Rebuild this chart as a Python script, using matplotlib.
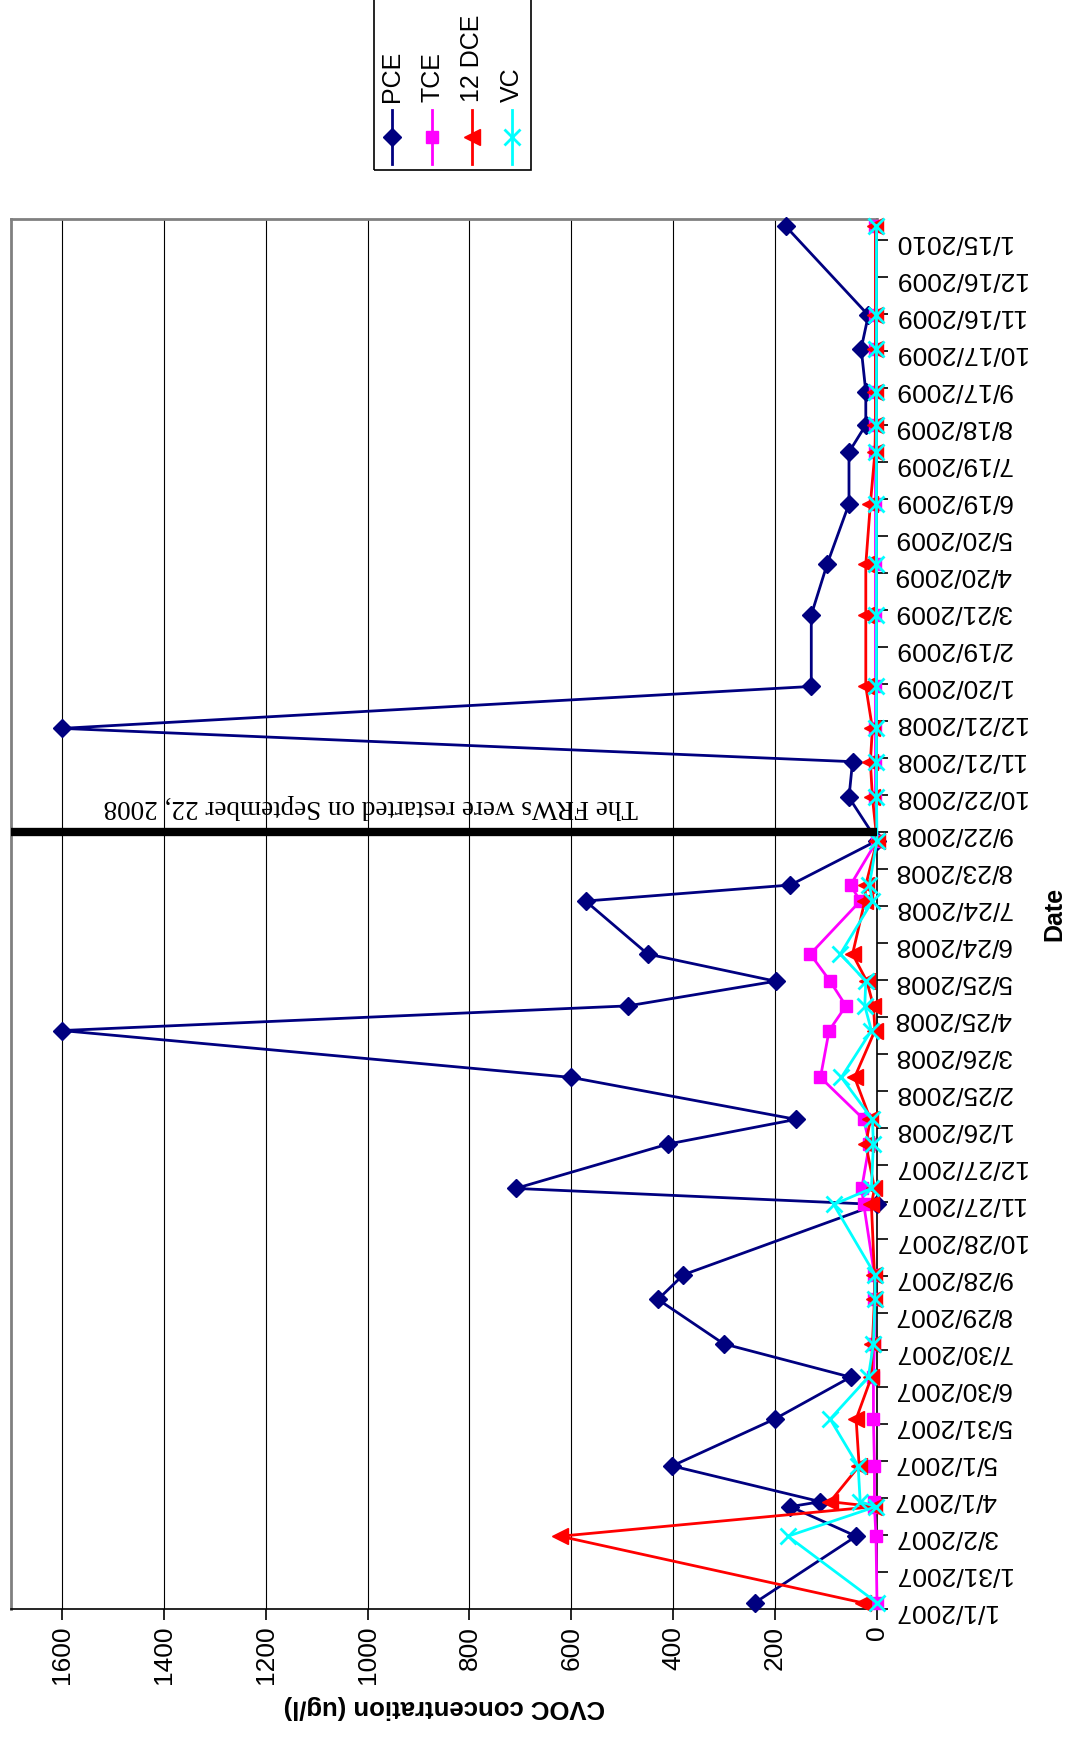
#!/usr/bin/env python3

import matplotlib
matplotlib.use("Agg")
import matplotlib.pyplot as plt
import matplotlib.dates as mdates
from matplotlib.lines import Line2D
from matplotlib.patches import Rectangle
import pandas as pd

# sample dates
sample_dates = [
    "2007-01-06", "2007-03-01", "2007-03-25", "2007-03-29", "2007-04-27",
    "2007-06-04", "2007-07-08", "2007-08-04", "2007-09-09", "2007-09-29",
    "2007-11-25", "2007-12-08", "2008-01-13", "2008-02-02", "2008-03-07",
    "2008-04-14", "2008-05-04", "2008-05-24", "2008-06-15", "2008-07-28",
    "2008-08-10", "2008-09-15", "2008-10-20", "2008-11-18", "2008-12-15",
    "2009-01-18", "2009-03-17", "2009-04-27", "2009-06-15", "2009-07-27",
    "2009-08-18", "2009-09-14", "2009-10-19", "2009-11-15", "2010-01-26",
]

pce = [240, 41, 170, 111, 402, 201, 52, 301, 430, 380,
       0, 709, 410, 159, 600, 1600, 489, 199, 450, 572,
       170, 0, 55, 48, 1600, 129, 129, 98, 55, 55,
       22, 22, 31, 17, 179]
tce = [0, 2, 5, 5, 5, 7, 7, 5, 5, 5,
       26, 30, 15, 26, 111, 94, 61, 92, 131, 33,
       52, 0, 3, 3, 3, 3, 3, 3, 3, 3,
       3, 3, 3, 3, 3]
dce = [28, 622, 5, 92, 35, 41, 11, 9, 5, 5,
       11, 5, 22, 13, 44, 4, 7, 20, 48, 24,
       22, 0, 9, 13, 9, 22, 22, 22, 13, 4,
       3, 3, 3, 3, 3]
vc = [0, 175, 2, 33, 37, 92, 17, 7, 4, 4,
      85, 11, 7, 9, 70, 11, 24, 22, 72, 9,
      15, 0, 1, 1, 1, 1, 1, 1, 1, 1,
      1, 1, 1, 1, 1]

date_ticks = [
    "1/1/2007", "1/31/2007", "3/2/2007", "4/1/2007", "5/1/2007", "5/31/2007",
    "6/30/2007", "7/30/2007", "8/29/2007", "9/28/2007", "10/28/2007",
    "11/27/2007", "12/27/2007", "1/26/2008", "2/25/2008", "3/26/2008",
    "4/25/2008", "5/25/2008", "6/24/2008", "7/24/2008", "8/23/2008",
    "9/22/2008", "10/22/2008", "11/21/2008", "12/21/2008", "1/20/2009",
    "2/19/2009", "3/21/2009", "4/20/2009", "5/20/2009", "6/19/2009",
    "7/19/2009", "8/18/2009", "9/17/2009", "10/17/2009", "11/16/2009",
    "12/16/2009", "1/15/2010",
]
conc_ticks = [0, 200, 400, 600, 800, 1000, 1200, 1400, 1600]

restart_date = "2008-09-22"
restart_note = "The FRWs were restarted on September 22, 2008"

series = [
    ("PCE", pce, "#000080", "D"),
    ("TCE", tce, "#FF00FF", "s"),
    ("12 DCE", dce, "#FF0000", "<"),
    ("VC", vc, "#00FFFF", "x"),
]
marker_size = {"D": 9, "s": 9, "<": 11, "x": 12}

W, H = 1071, 1738
fig = plt.figure(figsize=(W / 100, H / 100), dpi=100)
plt.rcParams["font.family"] = ["Liberation Sans", "DejaVu Sans"]

left, right, top, bottom = 11, 877, 219, 1609
ax = fig.add_axes([left / W, 1 - bottom / H, (right - left) / W, (bottom - top) / H])

dnum = mdates.date2num(pd.to_datetime(sample_dates))
for name, vals, color, marker in series:
    ax.plot(vals, dnum, color=color, lw=2, marker=marker, ms=marker_size[marker],
            mew=2 if marker == "x" else 1, mec=color, mfc=color, label=name,
            zorder=3, clip_on=False)

rd = mdates.date2num(pd.Timestamp(restart_date))
ax.axhline(rd, color="black", lw=6, zorder=4)
ax.text(470, mdates.date2num(pd.Timestamp("2008-10-13")), restart_note,
        rotation=180, ha="right", va="center", fontsize=19.5,
        family=["Liberation Serif", "DejaVu Serif"], zorder=5)

ax.set_xlim(1700, 0)
ax.set_ylim(mdates.date2num(pd.Timestamp("2007-01-01")),
            mdates.date2num(pd.Timestamp("2010-02-01")))

tick_pos = mdates.date2num(pd.to_datetime(date_ticks, format="%m/%d/%Y"))
ax.yaxis.tick_right()
ax.yaxis.set_label_position("right")
ax.set_yticks(tick_pos)
ax.set_yticklabels(date_ticks)
ax.tick_params(axis="y", labelrotation=180, length=8, width=1.2, labelsize=19, pad=4)

ax.set_xticks(conc_ticks)
ax.set_xticklabels([str(t) for t in conc_ticks])
ax.tick_params(axis="x", labelrotation=90, length=8, width=1.2, labelsize=19, pad=4)

ax.grid(axis="x", color="black", lw=0.8)
ax.set_axisbelow(True)

for s in ["left", "top"]:
    ax.spines[s].set_color("#808080")
    ax.spines[s].set_linewidth(2)
for s in ["right", "bottom"]:
    ax.spines[s].set_color("black")
    ax.spines[s].set_linewidth(1.2)

ax.set_xlabel("CVOC concentration (ug/l)", rotation=180, fontsize=18.5,
              fontweight="bold", labelpad=8)
ax.set_ylabel("Date", rotation=90, fontsize=18, fontweight="bold", labelpad=12)

# legend drawn by hand, entries stacked sideways
fig.patches.append(Rectangle((374 / W, 1 - 170 / H), 157 / W, 172 / H,
                             transform=fig.transFigure, fill=False,
                             edgecolor="black", lw=1.2))
for i, (name, vals, color, marker) in enumerate(series):
    x = (392 + 40 * i) / W
    fig.lines.append(Line2D([x, x], [1 - 110 / H, 1 - 164 / H],
                            transform=fig.transFigure, color=color, lw=2))
    fig.lines.append(Line2D([x], [1 - 137 / H], transform=fig.transFigure,
                            marker=marker, ms=marker_size[marker], color=color,
                            mfc=color, mec=color, mew=2 if marker == "x" else 1))
    fig.text(x, 1 - 102 / H, name, rotation=90, ha="center", va="bottom", fontsize=18)

fig.savefig("out.png", dpi=100)
